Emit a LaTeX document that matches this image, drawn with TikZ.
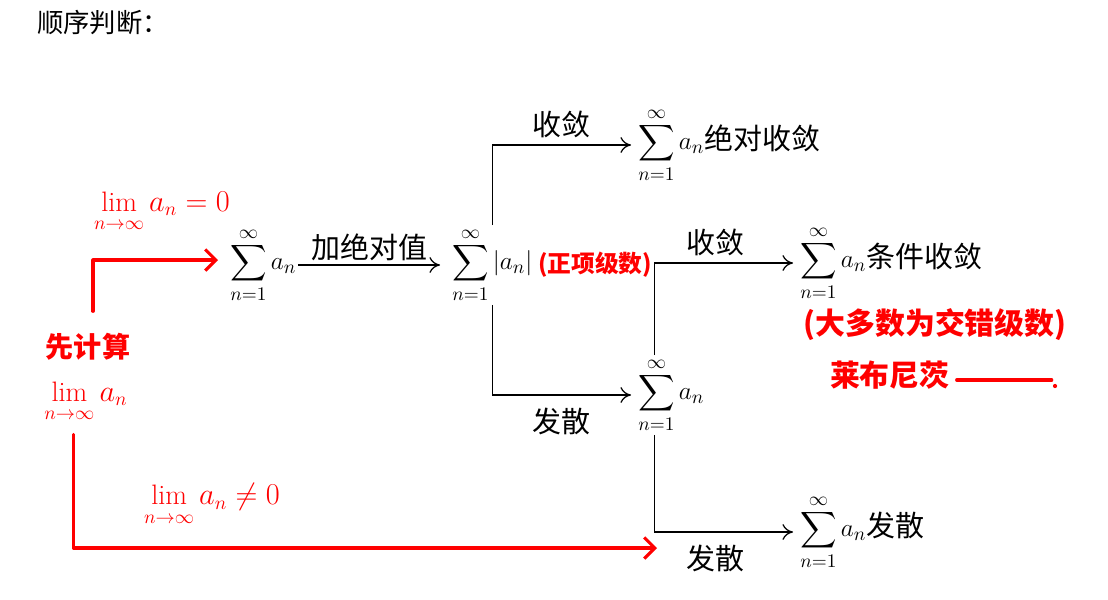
\documentclass[tikz,border=0pt]{standalone}
\usepackage{amsmath}
\usepackage{fontspec}
\newfontfamily\cjk{Noto Sans CJK SC}
\usepackage{tikz}
\usetikzlibrary{arrows.meta}
\usetikzlibrary{calc}

\newcommand{\zh}{\cjk\fontsize{16.5}{20}\selectfont}
\newcommand{\ssum}{\displaystyle\sum_{n=1}^{\infty}}

\tikzset{
  sumnode/.style={font=\fontsize{15}{18}\selectfont, inner sep=1pt, anchor=west},
  lbl/.style={font=\zh, inner sep=1pt},
  arr/.style={-{To[length=6pt,width=9pt]}, line width=0.7pt},
  hand/.style={red, line width=1.8pt, line cap=round, line join=round},
  handarr/.style={hand, -{Straight Barb[length=6pt,width=12pt,line width=1.8pt]}},
  note/.style={red, font=\cjk\bfseries\fontsize{16}{19}\selectfont, inner sep=1pt},
  limnote/.style={red, font=\fontsize{16}{19}\selectfont, inner sep=1pt},
}

\begin{document}
\begin{tikzpicture}[x=0.02cm,y=-0.02cm]
  \useasboundingbox (0,0) rectangle (1108,599);
  \node[anchor=west, font=\cjk\fontsize{15}{18}\selectfont] (title) at (31,22) {顺序判断：};

  % the series and the tests
  \node[sumnode] (s1) at (228,265) {$\ssum a_n$};
  \node[sumnode] (s2) at (450,265) {$\ssum |a_n|$};
  \node[sumnode] (s3) at (636,145) {$\ssum a_n${\zh 绝对收敛}};
  \node[sumnode] (s4) at (636,395) {$\ssum a_n$};
  \node[sumnode] (s5) at (798,263) {$\ssum a_n${\zh 条件收敛}};
  \node[sumnode] (s6) at (798,532) {$\ssum a_n${\zh 发散}};

  \draw[arr] (s1.east) -- node[lbl, above=1pt] (abs) {加绝对值} ([xshift=-0.2cm]s2.west);
  \draw[arr] (s2.north) |- node[lbl, pos=0.75, above=3pt] (c1) {收敛} ([xshift=-0.1cm]s3.west);
  \draw[arr] (s2.south) |- node[lbl, pos=0.75, below=6pt] (d1) {发散} ([xshift=-0.1cm]s4.west);
  \draw[arr] ([xshift=-0.34cm]s4.north) |- node[lbl, pos=0.72, above=3pt] (c2) {收敛} ([xshift=-0.1cm]s5.west);
  \draw[arr] ([xshift=-0.34cm]s4.south) |- node[lbl, pos=0.72, below=6pt] (d2) {发散} ([xshift=-0.1cm]s6.west);

  % handwritten notes
  \node[note, anchor=west, font=\cjk\bfseries\fontsize{13.5}{16}\selectfont] (pos) at ([xshift=0.03cm]s2.east) {(正项级数)};
  \node[note, font=\cjk\bfseries\fontsize{17}{20}\selectfont] (alt) at (935,325) {(大多数为交错级数)};
  \node[note, anchor=west, font=\cjk\bfseries\fontsize{17}{20}\selectfont] (leib) at (828,375) {莱布尼茨};
  \draw[hand] ([xshift=0.1cm]leib.east) ++(0,5) -- ++(95,0);
  \fill[red] (1055,386) circle (1.2pt);

  \node[note] (first) at (88,347) {先计算};
  \node[limnote] (lim) at (86,402) {$\lim\limits_{n\to\infty} a_n$};
  \node[limnote] (lim0) at (162,212) {$\lim\limits_{n\to\infty} a_n=0$};
  \node[limnote] (lim1) at (212,505) {$\lim\limits_{n\to\infty} a_n\neq 0$};
  \coordinate (redend) at (657,548);

  \draw[handarr] ([xshift=0.1cm,yshift=0.4cm]first.north) |- ([xshift=-0.2cm,yshift=0.1cm]s1.west);
  \draw[handarr] ([xshift=-0.25cm,yshift=-0.2cm]lim.south) |- (redend);
\end{tikzpicture}
\end{document}
